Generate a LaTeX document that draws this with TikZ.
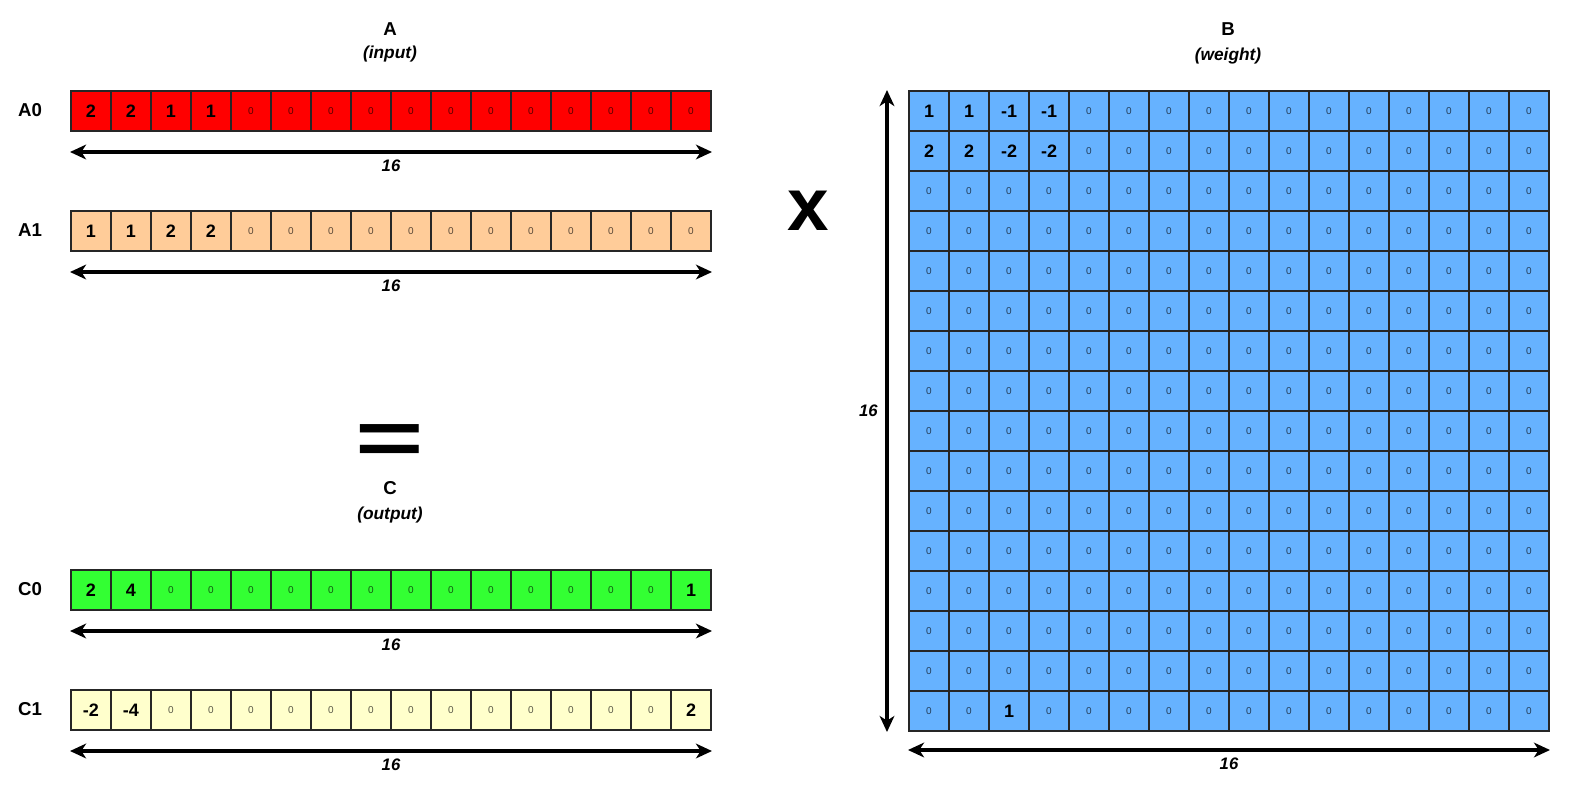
\documentclass[tikz,border=0pt]{standalone}
\usepackage{fontspec}
\setmainfont{Liberation Sans}
\usetikzlibrary{arrows.meta}
\definecolor{inred}{HTML}{FF0000}
\definecolor{inpeach}{HTML}{FFCC99}
\definecolor{outgreen}{HTML}{33FF33}
\definecolor{outyellow}{HTML}{FFFFCC}
\definecolor{wblue}{HTML}{66B2FF}
\tikzset{
  cell/.style={draw=black!85, line width=1.5pt, minimum size=30pt, inner sep=0pt, anchor=north west},
  dim/.style={line width=2.4pt, {Stealth[length=12pt,width=11pt,inset=3.5pt]}-{Stealth[length=12pt,width=11pt,inset=3.5pt]}},
  dimlbl/.style={font=\bfseries\itshape\fontsize{12.5}{14}\selectfont},
  rowlbl/.style={font=\bfseries\fontsize{14}{16}\selectfont},
  ttl/.style={font=\bfseries\fontsize{14}{16}\selectfont},
  subttl/.style={font=\bfseries\itshape\fontsize{13}{15}\selectfont}
}
\def\zeros{0,0,0,0,0,0,0,0,0,0,0,0,0,0,0,0}
\def\cellval#1#2{\ifnum#2=0\relax{\fontsize{7.5}{9}\selectfont\color{black!65!#1}0}\else{\bfseries\fontsize{13.5}{16}\selectfont#2}\fi}
\def\vecrow#1#2#3#4#5{\edef\rowlist{#5}%
  \foreach \v [count=\i] in \rowlist
    \node[cell, fill=#2] (#1-\i) at ({#3+40*(\i-1)}, {#4}) {\cellval{#2}{\v}};}

\begin{document}
\begin{tikzpicture}[x=0.75pt, y=-0.75pt]
			%%%%% START %%%%%
			\useasboundingbox (0,0) rectangle (1571,790);
			
			\node[ttl] (atitle) at (390, 29) {A};
			\node[subttl] (asub) at (390, 54) {(input)};
			\node[ttl] (btitle) at (1228, 29) {B};
			\node[subttl] (bsub) at (1228, 56) {(weight)};
			
			\node[rowlbl] (a0lbl) at (30, 110) {A0};
			\vecrow{a0}{inred}{70}{90}{2,2,1,1,0,0,0,0,0,0,0,0,0,0,0,0}
			\draw[dim] ([yshift=-15pt]a0-1.south west) -- node[dimlbl, yshift=-10.5pt] {16} ([yshift=-15pt]a0-16.south east);
			
			\node[rowlbl] (a1lbl) at (30, 230) {A1};
			\vecrow{a1}{inpeach}{70}{210}{1,1,2,2,0,0,0,0,0,0,0,0,0,0,0,0}
			\draw[dim] ([yshift=-15pt]a1-1.south west) -- node[dimlbl, yshift=-10.5pt] {16} ([yshift=-15pt]a1-16.south east);
			
			\node[font=\bfseries\fontsize{80}{80}\selectfont, inner sep=0pt] (eq) at (390, 445) {\scalebox{1.1}[0.72]{=}};
			\node[ttl] (ctitle) at (390, 488) {C};
			\node[subttl] (csub) at (390, 515) {(output)};
			
			\node[rowlbl] (c0lbl) at (30, 589) {C0};
			\vecrow{c0}{outgreen}{70}{569}{2,4,0,0,0,0,0,0,0,0,0,0,0,0,0,1}
			\draw[dim] ([yshift=-15pt]c0-1.south west) -- node[dimlbl, yshift=-10.5pt] {16} ([yshift=-15pt]c0-16.south east);
			
			\node[rowlbl] (c1lbl) at (30, 709) {C1};
			\vecrow{c1}{outyellow}{70}{689}{-2,-4,0,0,0,0,0,0,0,0,0,0,0,0,0,2}
			\draw[dim] ([yshift=-15pt]c1-1.south west) -- node[dimlbl, yshift=-10.5pt] {16} ([yshift=-15pt]c1-16.south east);
			
			\node[font=\bfseries\fontsize{56}{56}\selectfont] (times) at (808, 211) {x};
			
			\vecrow{b1}{wblue}{908}{90}{1,1,-1,-1,0,0,0,0,0,0,0,0,0,0,0,0}
			\vecrow{b2}{wblue}{908}{130}{2,2,-2,-2,0,0,0,0,0,0,0,0,0,0,0,0}
			\foreach \r in {3,...,15}
				{\vecrow{b\r}{wblue}{908}{90+40*(\r-1)}{\zeros}}
			\vecrow{b16}{wblue}{908}{690}{0,0,1,0,0,0,0,0,0,0,0,0,0,0,0,0}
			
			\draw[dim] ([xshift=-15.75pt]b1-1.north west) -- node[dimlbl, xshift=-14pt] {16} ([xshift=-15.75pt]b16-1.south west);
			\draw[dim] ([yshift=-13.5pt]b16-1.south west) -- node[dimlbl, yshift=-10.5pt] {16} ([yshift=-13.5pt]b16-16.south east);
			
			%%%%% END %%%%%
\end{tikzpicture}
\end{document}
